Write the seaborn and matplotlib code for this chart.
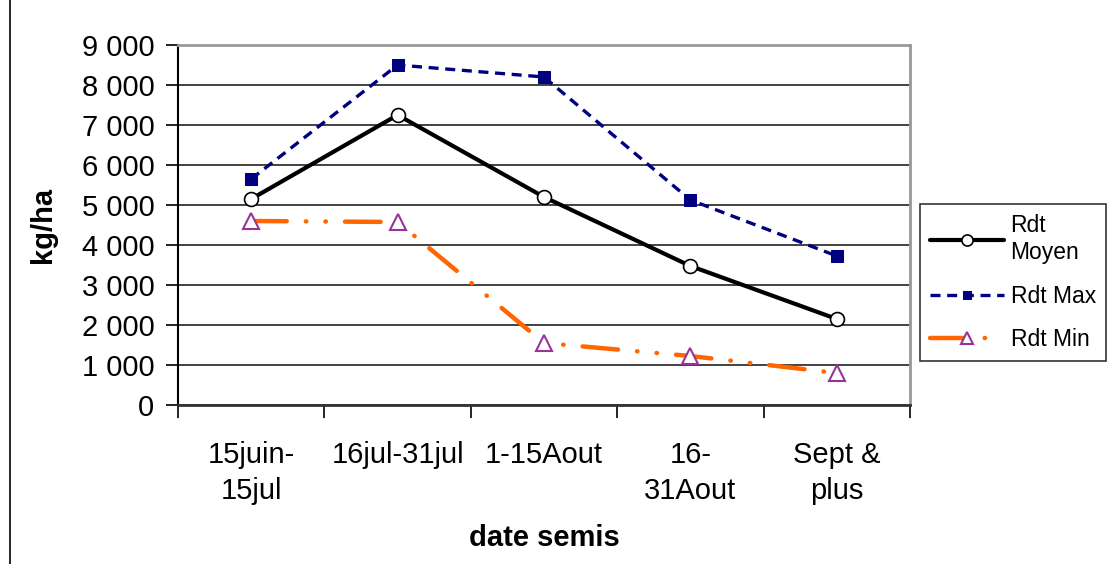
import matplotlib
matplotlib.use("Agg")
import matplotlib.pyplot as plt
import seaborn as sns
import pandas as pd
from matplotlib.lines import Line2D
from matplotlib.ticker import FixedLocator, NullFormatter

categories = ["15juin-\n15jul", "16jul-31jul", "1-15Aout", "16-\n31Aout", "Sept &\nplus"]
rdt_moyen = [5150, 7250, 5200, 3475, 2150]
rdt_max = [5650, 8500, 8200, 5125, 3725]
rdt_min = [4600, 4575, 1550, 1225, 800]
y_ticks = [0, 1000, 2000, 3000, 4000, 5000, 6000, 7000, 8000, 9000]
y_ticklabels = ["0", "1 000", "2 000", "3 000", "4 000", "5 000", "6 000", "7 000", "8 000", "9 000"]
series_labels = ["Rdt\nMoyen", "Rdt Max", "Rdt Min"]

sns.set_theme(style="white")
plt.rcParams['font.family'] = ['Liberation Sans', 'DejaVu Sans']
plt.rcParams['text.color'] = 'black'
plt.rcParams['axes.labelcolor'] = 'black'
plt.rcParams['xtick.color'] = 'black'
plt.rcParams['ytick.color'] = 'black'

W, H = 1107, 564
fig = plt.figure(figsize=(W / 100, H / 100), dpi=100)
ax = fig.add_axes([178 / W, 1 - 405 / H, 732 / W, 360 / H])

pos = list(range(len(categories)))
df = pd.DataFrame({"pos": pos, "moyen": rdt_moyen, "max": rdt_max, "min": rdt_min})

sns.lineplot(data=df, x="pos", y="min", ax=ax, color="#FF6600", lw=3.2,
             linestyle=(0, (8, 4.3, 0.1, 4.3, 0.1, 4.3)), dash_capstyle="round",
             marker="^", markersize=11, markerfacecolor="white",
             markeredgecolor="#993399", markeredgewidth=1.5, label=series_labels[2], zorder=3)
sns.lineplot(data=df, x="pos", y="moyen", ax=ax, color="black", lw=3,
             marker="o", markersize=10, markerfacecolor="white",
             markeredgecolor="black", markeredgewidth=1.2, label=series_labels[0], zorder=4)
sns.lineplot(data=df, x="pos", y="max", ax=ax, color="#000080", lw=2.4,
             linestyle=(0, (3, 2)), marker="s", markersize=8,
             markerfacecolor="#000080", markeredgecolor="#000080",
             label=series_labels[1], zorder=5)

ax.set_xlim(-0.5, len(categories) - 0.5)
ax.set_ylim(0, 9000)

ax.set_yticks(y_ticks)
ax.set_yticklabels(y_ticklabels)
ax.yaxis.grid(True, color="#222222", lw=1.2)
ax.set_axisbelow(True)

ax.xaxis.set_major_locator(FixedLocator([p - 0.5 for p in pos] + [pos[-1] + 0.5]))
ax.xaxis.set_major_formatter(NullFormatter())
ax.xaxis.set_minor_locator(FixedLocator(pos))
ax.set_xticklabels(categories, minor=True, linespacing=1.35)
ax.tick_params(axis="x", which="major", direction="out", length=9, width=1.2, color="black", bottom=True)
ax.tick_params(axis="x", which="minor", length=0, pad=26, labelsize=21)
ax.tick_params(axis="y", direction="out", length=9, width=1.2, color="black", left=True, labelsize=21, pad=8)

for s in ["top", "right"]:
    ax.spines[s].set_color("#999999")
    ax.spines[s].set_linewidth(2)
ax.spines["left"].set_color("black")
ax.spines["left"].set_linewidth(1.5)
ax.spines["bottom"].set_color("#333333")
ax.spines["bottom"].set_linewidth(2)

ax.set_xlabel("date semis", fontsize=21, fontweight="bold", labelpad=14)
ax.set_ylabel("kg/ha", fontsize=21, fontweight="bold", labelpad=18)

ax.get_legend().remove()
handles, labels = ax.get_legend_handles_labels()
order = [labels.index(l) for l in series_labels]
leg = fig.legend([handles[i] for i in order], [labels[i] for i in order],
                 loc="upper left", bbox_to_anchor=(920 / W, 1 - 204 / H),
                 fontsize=16.5, frameon=True, fancybox=False, edgecolor="black",
                 handlelength=3.2, labelspacing=0.9, borderpad=0.45, handletextpad=0.3,
                 markerscale=0.8, borderaxespad=0)
leg.get_frame().set_linewidth(1.2)
for t in leg.get_texts():
    t.set_multialignment("left")

fig.add_artist(Line2D([10 / W, 10 / W], [0, 1], transform=fig.transFigure, color="black", lw=1.2))

fig.savefig("out.png", dpi=100)
